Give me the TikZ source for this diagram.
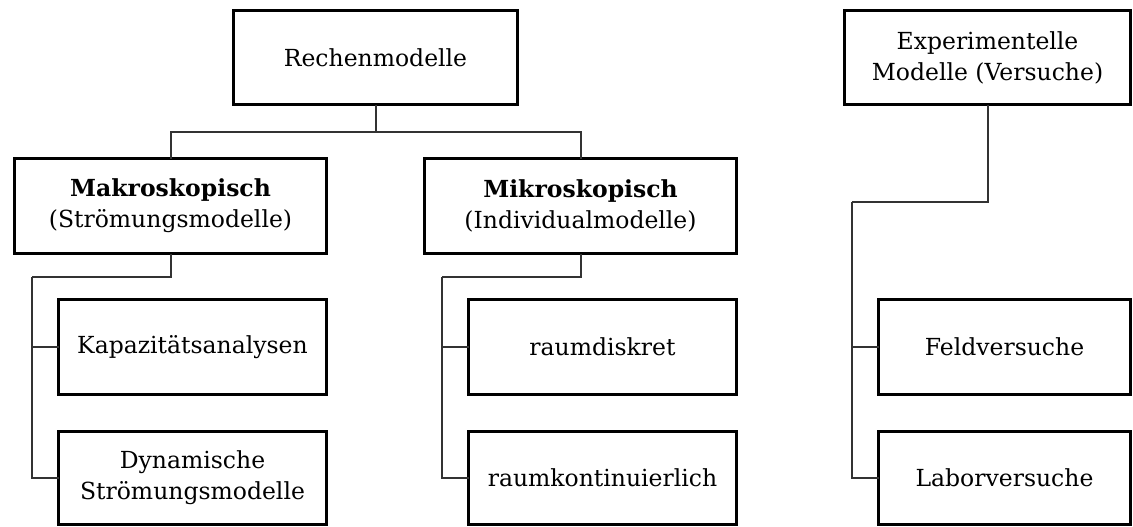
\documentclass[tikz,border=0pt]{standalone}
\usepackage{fontspec}
\setmainfont{DejaVu Serif}
\begin{document}
\begin{tikzpicture}[x=1pt,y=-1pt,
  box/.style={draw=black, line width=3.2pt, fill=white, align=center, inner sep=0pt, outer sep=0pt,
    font=\fontsize{23.5}{31}\selectfont},
  link/.style={draw=black!80, line width=2pt}]
\useasboundingbox (0,0) rectangle (1133,527);

% top level
\node[box, minimum width=284, minimum height=94] (R) at (375.5,57.5) {Rechenmodelle};
\node[box, minimum width=286, minimum height=94] (E) at (987.5,57.5) {Experimentelle\\Modelle (Versuche)};

% second level
\node[box, minimum width=312, minimum height=95] (Mak) at (170.5,206) {\textbf{Makroskopisch}\\(Strömungsmodelle)};
\node[box, minimum width=312, minimum height=95] (Mik) at (580.5,206) {\textbf{Mikroskopisch}\\(Individualmodelle)};

% leaves
\node[box, minimum width=268, minimum height=95] (Kap) at (192.5,347) {Kapazitätsanalysen};
\node[box, minimum width=268, minimum height=93] (Dyn) at (192.5,478) {Dynamische\\Strömungsmodelle};
\node[box, minimum width=268, minimum height=95] (Rd) at (602.5,347) {raumdiskret};
\node[box, minimum width=268, minimum height=93] (Rk) at (602.5,478) {raumkontinuierlich};
\node[box, minimum width=252, minimum height=95] (Fv) at (1004.5,347) {Feldversuche};
\node[box, minimum width=252, minimum height=93] (Lv) at (1004.5,478) {Laborversuche};

% junction points of the tree lines
\coordinate (jR) at (375.5,132);
\coordinate (jMak) at (32,277);
\coordinate (jMik) at (442,277);
\coordinate (jE) at (852,202);

\path[link] (R.south) -- (jR);
\path[link] (Mak.north) |- (jR) -| (Mik.north);
\path[link] (Mak.south) |- (jMak);
\path[link] (jMak) |- (Kap.west);
\path[link] (jMak) |- (Dyn.west);
\path[link] (Mik.south) |- (jMik);
\path[link] (jMik) |- (Rd.west);
\path[link] (jMik) |- (Rk.west);
\path[link] (E.south) |- (jE);
\path[link] (jE) |- (Fv.west);
\path[link] (jE) |- (Lv.west);
\end{tikzpicture}
\end{document}
